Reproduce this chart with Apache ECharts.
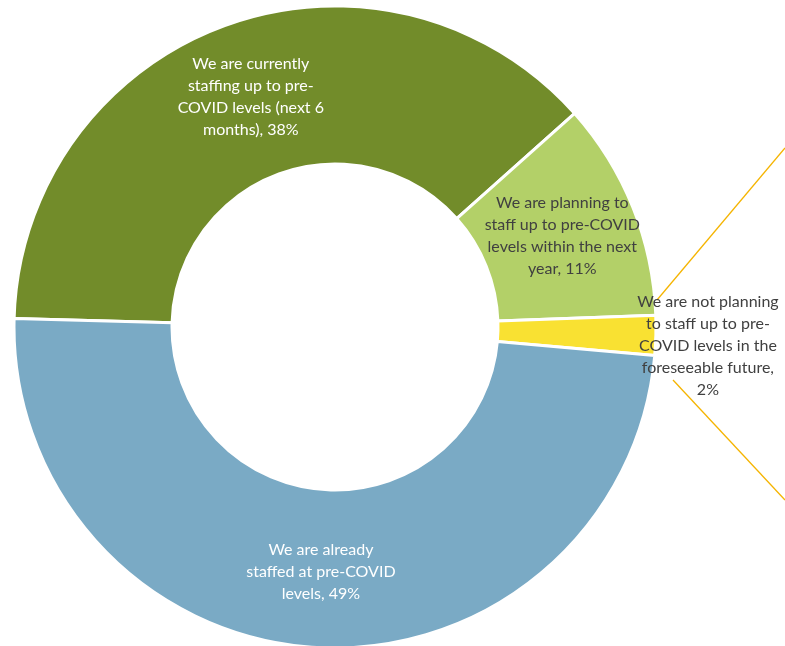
<!DOCTYPE html>
<html>
<head>
<meta charset="utf-8">
<script src="https://cdn.jsdelivr.net/npm/echarts@6/dist/echarts.min.js"></script>
<style>
  html, body { margin: 0; padding: 0; background: #fff; }
  #chart { width: 785px; height: 646px; }
</style>
</head>
<body>
<div id="chart"></div>
<script>
// categories (line breaks as in the original labels)
var categories = [
  'We are currently\nstaffing up to pre-\nCOVID levels (next 6\nmonths)',
  'We are planning to\nstaff up to pre-COVID\nlevels within the next\nyear',
  'We are not planning\nto staff up to pre-\nCOVID levels in the\nforeseeable future',
  'We are already\nstaffed at pre-COVID\nlevels'
];
var shares = [38, 11, 2, 49];
var colors = ['#728c2a', '#b3d068', '#f9e132', '#7aaac5'];
var textColors = ['#ffffff', '#404040', '#404040', '#ffffff'];

var mychart = echarts.init(document.getElementById('chart'));

var pieData = categories.map(function (name, i) {
  var item = {
    name: name,
    value: shares[i],
    itemStyle: { color: colors[i] },
    label: { color: textColors[i] }
  };
  if (i === 2) {
    // small slice: label sits outside, to the right
    item.label.offset = [128, 12];
  }
  return item;
});

var option = {
  animation: false,
  backgroundColor: '#ffffff',
  series: [{
    type: 'pie',
    center: [335, 327],
    radius: [163, 321],
    startAngle: 178.5,
    clockwise: true,
    avoidLabelOverlap: false,
    itemStyle: {
      borderColor: '#ffffff',
      borderWidth: 3
    },
    label: {
      show: true,
      position: 'inside',
      fontFamily: 'Lato, "Open Sans", sans-serif',
      fontSize: 16,
      lineHeight: 22,
      align: 'center',
      formatter: function (p) {
        return p.name + (p.dataIndex === 2 ? ',\n' : ', ') + p.value + '%';
      }
    },
    labelLine: { show: false },
    data: pieData
  }],
  // leader lines of the small slice's callout
  graphic: [
    { type: 'line', shape: { x1: 785, y1: 148, x2: 657, y2: 300 }, style: { stroke: '#f5b400', lineWidth: 1.3 } },
    { type: 'line', shape: { x1: 673, y1: 380, x2: 785, y2: 500 }, style: { stroke: '#f5b400', lineWidth: 1.3 } }
  ]
};
mychart.setOption(option, true);
</script>
</body>
</html>
